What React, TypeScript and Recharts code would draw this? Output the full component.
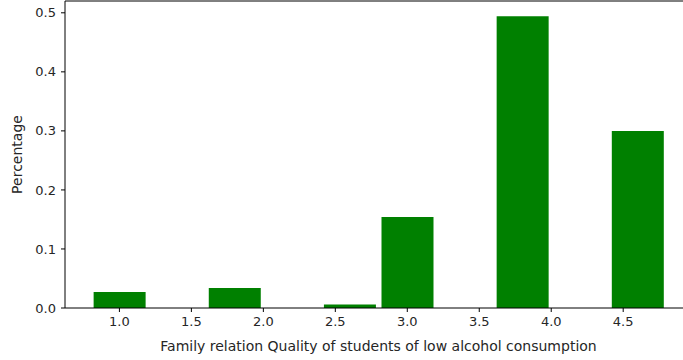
import { Bar, BarChart, ReferenceLine, XAxis, YAxis } from "recharts";

const binCenters = [1.0, 1.8, 2.6, 3.0, 3.8, 4.6];
const shares = [0.027, 0.034, 0.006, 0.154, 0.494, 0.3];
const xTicks = [1.0, 1.5, 2.0, 2.5, 3.0, 3.5, 4.0, 4.5];
const yTicks = [0.0, 0.1, 0.2, 0.3, 0.4, 0.5];

const data = binCenters.map((x, i) => ({ x, share: shares[i] }));

const font = "'DejaVu Sans', sans-serif";
const tickStyle = { fill: "#262626", fontSize: 13, fontFamily: font };
const labelStyle = { fill: "#262626", fontSize: 14, fontFamily: font };

export default function App() {
  return (
    <div
      style={{
        position: "absolute",
        left: 0,
        top: 0,
        width: 683,
        height: 360,
        overflow: "hidden",
        background: "#fff",
      }}
    >
      <BarChart
        width={700}
        height={360}
        data={data}
        margin={{ top: 1, right: 8, bottom: 0, left: 0 }}
      >
        <XAxis
          dataKey="x"
          type="number"
          domain={[0.622, 4.978]}
          ticks={xTicks}
          tickFormatter={(v: number) => v.toFixed(1)}
          allowDataOverflow
          height={52}
          tick={tickStyle}
          tickSize={4}
          tickMargin={5}
          tickLine={{ stroke: "#000" }}
          axisLine={{ stroke: "#000" }}
          label={{
            value: "Family relation Quality of students of low alcohol consumption",
            position: "insideBottom",
            offset: 9,
            style: labelStyle,
          }}
        />
        <YAxis
          type="number"
          domain={[0, 0.52]}
          ticks={yTicks}
          tickFormatter={(v: number) => v.toFixed(1)}
          allowDataOverflow
          width={65}
          tick={tickStyle}
          tickSize={4}
          tickMargin={5}
          tickLine={{ stroke: "#000" }}
          axisLine={{ stroke: "#000" }}
          label={{
            value: "Percentage",
            angle: -90,
            position: "insideLeft",
            offset: 17,
            style: { ...labelStyle, textAnchor: "middle" },
          }}
        />
        <ReferenceLine y={0.52} stroke="#000" />
        <Bar dataKey="share" fill="#008000" barSize={52} isAnimationActive={false} />
      </BarChart>
    </div>
  );
}
